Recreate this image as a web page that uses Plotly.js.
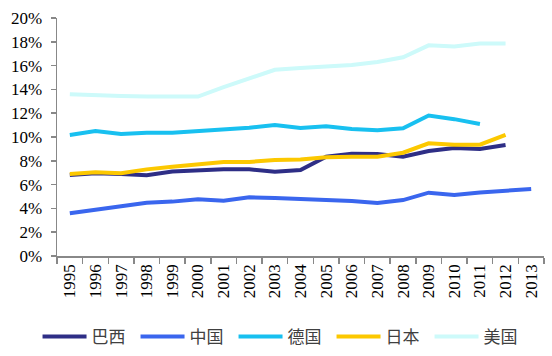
<!DOCTYPE html>
<html>
<head>
<meta charset="utf-8">
<script src="https://cdn.plot.ly/plotly-3.0.1.min.js"></script>
<style>html,body{margin:0;padding:0;background:#fff;}#chart{width:552px;height:356px;}</style>
</head>
<body>
<div id="chart"></div>
<script>
const years = ["1995","1996","1997","1998","1999","2000","2001","2002","2003","2004","2005","2006","2007","2008","2009","2010","2011","2012","2013"];
const seriesNames = ["巴西","中国","德国","日本","美国"];
const brazil  = [6.8, 6.95, 6.9, 6.78, 7.1, 7.2, 7.28, 7.28, 7.08, 7.23, 8.35, 8.6, 8.57, 8.35, 8.82, 9.08, 9.0, 9.33, null];
const china   = [3.59, 3.87, 4.15, 4.48, 4.57, 4.76, 4.65, 4.93, 4.87, 4.79, 4.7, 4.62, 4.45, 4.7, 5.32, 5.13, 5.34, 5.49, 5.63];
const germany = [10.17, 10.5, 10.25, 10.36, 10.36, 10.5, 10.6, 10.78, 11.0, 10.76, 10.9, 10.67, 10.56, 10.73, 11.8, 11.5, 11.1, null, null];
const japan   = [6.9, 7.03, 6.95, 7.28, 7.5, 7.7, 7.9, 7.9, 8.07, 8.1, 8.3, 8.33, 8.35, 8.68, 9.47, 9.35, 9.35, 10.17, null];
const usa     = [13.6, 13.5, 13.45, 13.4, 13.4, 13.4, 14.2, 14.9, 15.65, 15.8, 15.9, 16.05, 16.3, 16.7, 17.7, 17.6, 17.85, 17.85, null];
const yTickVals = [0, 2, 4, 6, 8, 10, 12, 14, 16, 18, 20];
const yTickText = ["0%","2%","4%","6%","8%","10%","12%","14%","16%","18%","20%"];

const allData = [brazil, china, germany, japan, usa];
const colors = ["#2e2e86", "#3a66ee", "#18c0f0", "#fcc800", "#cdfafa"];
const serif = "Liberation Serif, Times New Roman, serif";

const traces = allData.map((vals, i) => ({
  type: "scatter",
  mode: "lines",
  name: seriesNames[i],
  x: years,
  y: vals,
  line: {color: colors[i], width: 4},
  connectgaps: false,
  hoverinfo: "skip"
}));

const layout = {
  width: 552,
  height: 356,
  margin: {l: 57, r: 8, t: 18, b: 100},
  paper_bgcolor: "#ffffff",
  plot_bgcolor: "#ffffff",
  showlegend: true,
  legend: {
    orientation: "h",
    xref: "container",
    yref: "container",
    x: 0.068,
    xanchor: "left",
    y: 0.0534,
    yanchor: "middle",
    itemwidth: 44,
    entrywidth: 39,
    font: {family: "Noto Sans CJK SC", size: 17, color: "#404040"},
    bgcolor: "rgba(0,0,0,0)"
  },
  xaxis: {
    type: "category",
    range: [-0.5, 18.5],
    tickson: "boundaries",
    ticks: "outside",
    ticklen: 6,
    tickcolor: "#888888",
    tickwidth: 1.5,
    showline: true,
    linecolor: "#888888",
    linewidth: 1.5,
    showgrid: false,
    zeroline: false,
    automargin: false,
    tickangle: -90,
    tickfont: {family: serif, size: 17, color: "#000000"},
    fixedrange: true
  },
  yaxis: {
    range: [0, 20],
    tickvals: yTickVals,
    ticktext: yTickText,
    ticks: "outside",
    ticklen: 5,
    tickcolor: "#888888",
    tickwidth: 1.5,
    showline: true,
    linecolor: "#888888",
    linewidth: 1.5,
    showgrid: false,
    zeroline: false,
    automargin: false,
    ticklabelstandoff: 5,
    tickfont: {family: serif, size: 17, color: "#000000"},
    fixedrange: true
  }
};

Plotly.newPlot("chart", traces, layout, {staticPlot: true, displayModeBar: false});
</script>
</body>
</html>
